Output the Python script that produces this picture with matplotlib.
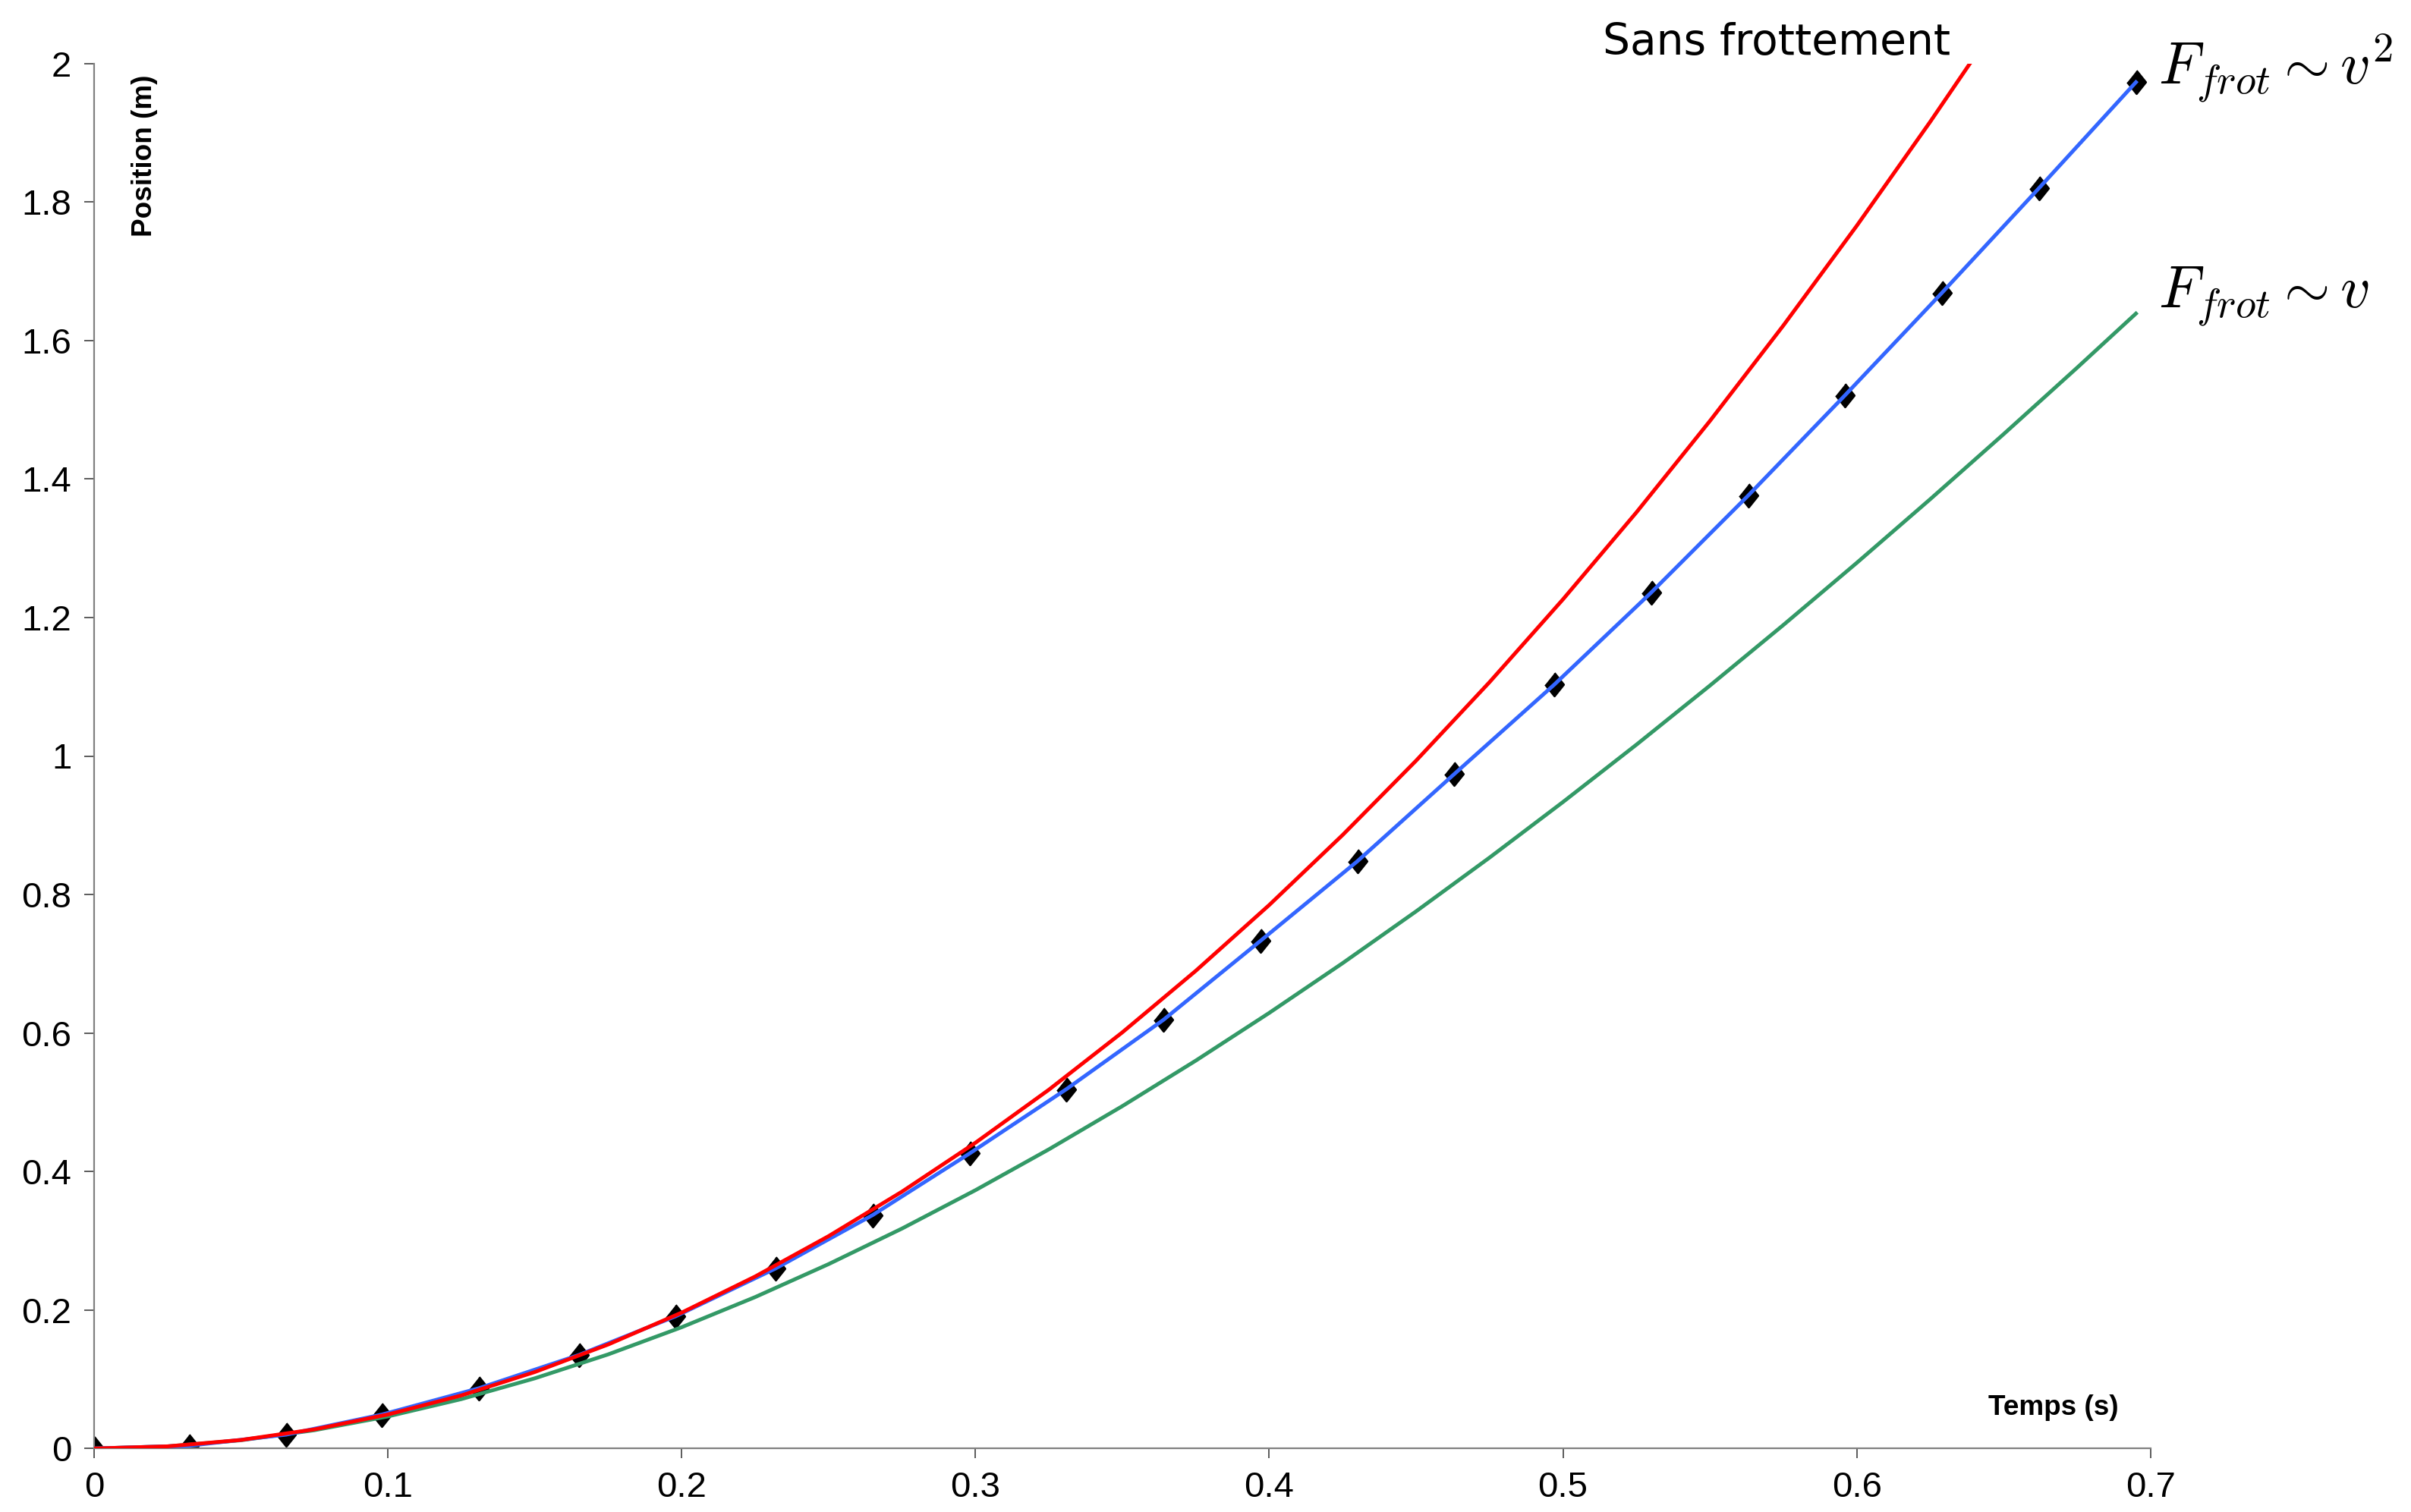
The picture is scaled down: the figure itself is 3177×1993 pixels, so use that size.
import matplotlib
matplotlib.use("Agg")
import matplotlib.pyplot as plt

plt.rcParams['mathtext.fontset'] = 'cm'

# measured positions (diamond markers, joined by the blue line)
t_mes = [0, 0.0324, 0.0654, 0.098, 0.131, 0.165, 0.198, 0.232, 0.265, 0.298, 0.331,
         0.364, 0.397, 0.43, 0.463, 0.497, 0.53, 0.563, 0.596, 0.629, 0.662, 0.695]
y_mes = [0, 0.004, 0.02, 0.049, 0.087, 0.135, 0.191, 0.26, 0.337, 0.426, 0.519,
         0.619, 0.733, 0.848, 0.974, 1.103, 1.236, 1.376, 1.521, 1.669, 1.82, 1.973]

# no friction (red)
t_libre = [0, 0.025, 0.05, 0.075, 0.1, 0.125, 0.15, 0.175, 0.2, 0.225, 0.25, 0.275,
           0.3, 0.325, 0.35, 0.375, 0.4, 0.425, 0.45, 0.475, 0.5, 0.525, 0.55,
           0.575, 0.6, 0.625, 0.6385]
y_libre = [0, 0.0031, 0.0123, 0.0276, 0.0491, 0.0766, 0.1104, 0.1502, 0.1962, 0.2483,
           0.3066, 0.3709, 0.4415, 0.5181, 0.6009, 0.6898, 0.7848, 0.886, 0.9933,
           1.1067, 1.2263, 1.3519, 1.4838, 1.6217, 1.7658, 1.916, 2.0]

# friction ~ v (green)
t_lin = [0, 0.025, 0.05, 0.075, 0.1, 0.125, 0.15, 0.175, 0.2, 0.225, 0.25, 0.275,
         0.3, 0.325, 0.35, 0.375, 0.4, 0.425, 0.45, 0.475, 0.5, 0.525, 0.55,
         0.575, 0.6, 0.625, 0.65, 0.675, 0.695]
y_lin = [0, 0.003, 0.0119, 0.0264, 0.0463, 0.0713, 0.1013, 0.1359, 0.1751, 0.2186,
         0.2662, 0.3176, 0.373, 0.432, 0.4944, 0.5601, 0.629, 0.7009, 0.7757, 0.8533,
         0.9336, 1.0164, 1.1017, 1.1892, 1.279, 1.3709, 1.4649, 1.5608, 1.6389]

x_ticks = [0, 0.1, 0.2, 0.3, 0.4, 0.5, 0.6, 0.7]
y_ticks = [0, 0.2, 0.4, 0.6, 0.8, 1, 1.2, 1.4, 1.6, 1.8, 2]

fig = plt.figure(figsize=(15.885, 9.965), dpi=200)
ax = fig.add_axes([0.039, 0.042, 0.853, 0.916])

diamond = [(0, 1), (0.8, 0), (0, -1), (-0.8, 0)]
ax.plot(t_mes, y_mes, linestyle='none', marker=diamond, markersize=11,
        color='black', zorder=2)
ax.plot(t_lin, y_lin, color='#339966', lw=1.8, zorder=3)
ax.plot(t_mes, y_mes, color='#3366ff', lw=1.8, zorder=4)
ax.plot(t_libre, y_libre, color='#ff0000', lw=1.8, zorder=5)

ax.set_xlim(0, 0.7)
ax.set_ylim(0, 2)
ax.set_xticks(x_ticks)
ax.set_yticks(y_ticks)
ax.set_xticklabels(['%g' % v for v in x_ticks])
ax.set_yticklabels(['%g' % v for v in y_ticks])

for s in ['top', 'right']:
    ax.spines[s].set_visible(False)
for s in ['left', 'bottom']:
    ax.spines[s].set_color('#808080')
    ax.spines[s].set_linewidth(0.8)
ax.tick_params(direction='out', length=4.7, width=0.6, color='#404040',
               labelsize=17, pad=6)
for lab in ax.get_xticklabels() + ax.get_yticklabels():
    lab.set_fontfamily('Liberation Sans')

ax.text(0.0172, 1.867, 'Position (m)', rotation=90, ha='center', va='center',
        fontsize=13.3, fontweight='bold', family='Liberation Sans')
ax.text(0.667, 0.048, 'Temps (s)', ha='center', va='baseline',
        fontsize=13.3, fontweight='bold', family='Liberation Sans')

ax.text(0.5136, 2.013, 'Sans frottement', ha='left', va='baseline',
        fontsize=20.4, clip_on=False)
ax.text(0.7026, 1.969, r'$F_{frot} \sim v^2$', ha='left', va='baseline',
        fontsize=28, clip_on=False)
ax.text(0.7026, 1.647, r'$F_{frot} \sim v$', ha='left', va='baseline',
        fontsize=28, clip_on=False)

fig.savefig('out.png', dpi=200)
